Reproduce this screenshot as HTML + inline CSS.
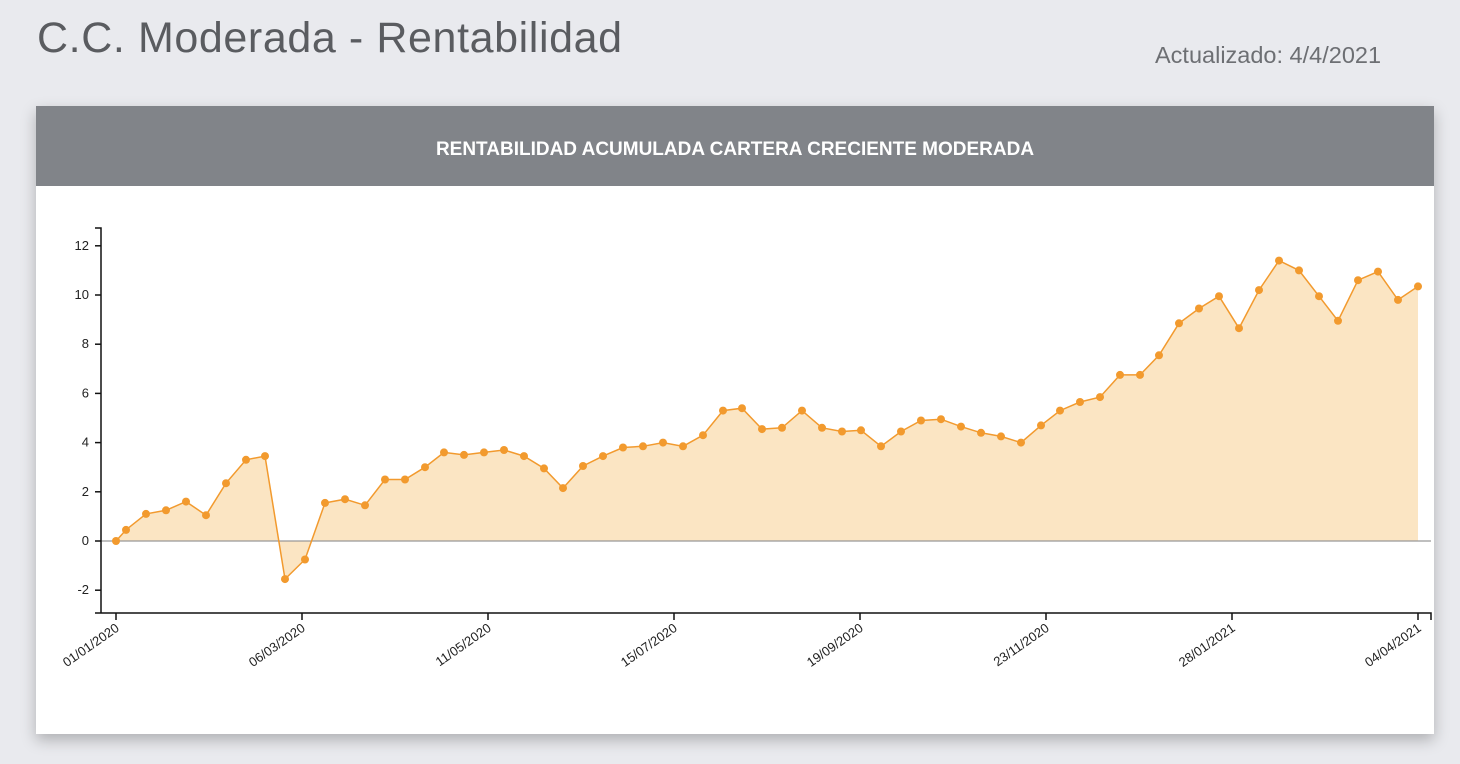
<!DOCTYPE html>
<html><head><meta charset="utf-8"><style>
body{margin:0;width:1460px;height:764px;background:#e9eaee;font-family:"Liberation Sans",sans-serif;overflow:hidden;position:relative}
.t{position:absolute;left:37px;top:14px;font-size:43px;color:#5a5c60;letter-spacing:0.6px;font-weight:300}
.u{position:absolute;left:1155px;top:42px;font-size:23.5px;color:#6d6f73}
.card{position:absolute;left:36px;top:106px;width:1398px;height:628px;background:#fff;box-shadow:0 6px 14px rgba(0,0,0,0.25)}
.hd{height:80px;background:#818489;color:#fff;font-weight:bold;font-size:19px;text-align:center;line-height:88px}
svg{position:absolute;left:0;top:0}
</style></head><body>
<div class="t">C.C. Moderada - Rentabilidad</div>
<div class="u">Actualizado: 4/4/2021</div>
<div class="card"><div class="hd">RENTABILIDAD ACUMULADA CARTERA CRECIENTE MODERADA</div></div>
<svg id="s" width="1460" height="764" font-family="Liberation Sans, sans-serif"></svg>
<script>
var d=[[116,0],[126,.45],[146,1.1],[166,1.25],[186,1.6],[206,1.05],[226,2.35],[246,3.3],[265,3.45],[285,-1.55],[305,-.75],[325,1.55],[345,1.7],[365,1.45],[385,2.5],[405,2.5],[425,3.0],[444,3.6],[464,3.5],[484,3.6],[504,3.7],[524,3.45],[544,2.95],[563,2.15],[583,3.05],[603,3.45],[623,3.8],[643,3.85],[663,4.0],[683,3.85],[703,4.3],[723,5.3],[742,5.4],[762,4.55],[782,4.6],[802,5.3],[822,4.6],[842,4.45],[861,4.5],[881,3.85],[901,4.45],[921,4.9],[941,4.95],[961,4.65],[981,4.4],[1001,4.25],[1021,4.0],[1041,4.7],[1060,5.3],[1080,5.65],[1100,5.85],[1120,6.75],[1140,6.75],[1159,7.55],[1179,8.85],[1199,9.45],[1219,9.95],[1239,8.65],[1259,10.2],[1279,11.4],[1299,11.0],[1319,9.95],[1338,8.95],[1358,10.6],[1378,10.95],[1398,9.8],[1418,10.35]];
function Y(v){return 541-v*24.6}
var h='';
var pts=d.map(p=>p[0]+','+Y(p[1]).toFixed(1)).join(' ');
h+='<polygon points="116,541 '+pts+' 1418,541" fill="#fbe5c3"/>';
h+='<line x1="101" y1="541" x2="1431" y2="541" stroke="#999" stroke-width="1.3"/>';
h+='<polyline points="'+pts+'" fill="none" stroke="#f29a2e" stroke-width="1.5"/>';
d.forEach(p=>h+='<circle cx="'+p[0]+'" cy="'+Y(p[1]).toFixed(1)+'" r="4" fill="#f29a2e"/>');
h+='<path d="M95,228H101V613M95,613H1431V620" fill="none" stroke="#111" stroke-width="1.5"/>';
for(var v=-2;v<=12;v+=2){var y=Y(v);h+='<line x1="95" x2="101" y1="'+y+'" y2="'+y+'" stroke="#111" stroke-width="1.5"/><text x="89" y="'+(y+4)+'" font-size="13" text-anchor="end" fill="#222">'+v+'</text>';}
var L=['01/01/2020','06/03/2020','11/05/2020','15/07/2020','19/09/2020','23/11/2020','28/01/2021','04/04/2021'];
L.forEach((s,i)=>{var x=116+i*186;h+='<line x1="'+x+'" x2="'+x+'" y1="613" y2="620" stroke="#111" stroke-width="1.5"/><text font-size="13" fill="#222" text-anchor="end" transform="translate('+(x+4)+',630) rotate(-35)">'+s+'</text>';});
document.getElementById('s').innerHTML=h;
</script>
</body></html>
